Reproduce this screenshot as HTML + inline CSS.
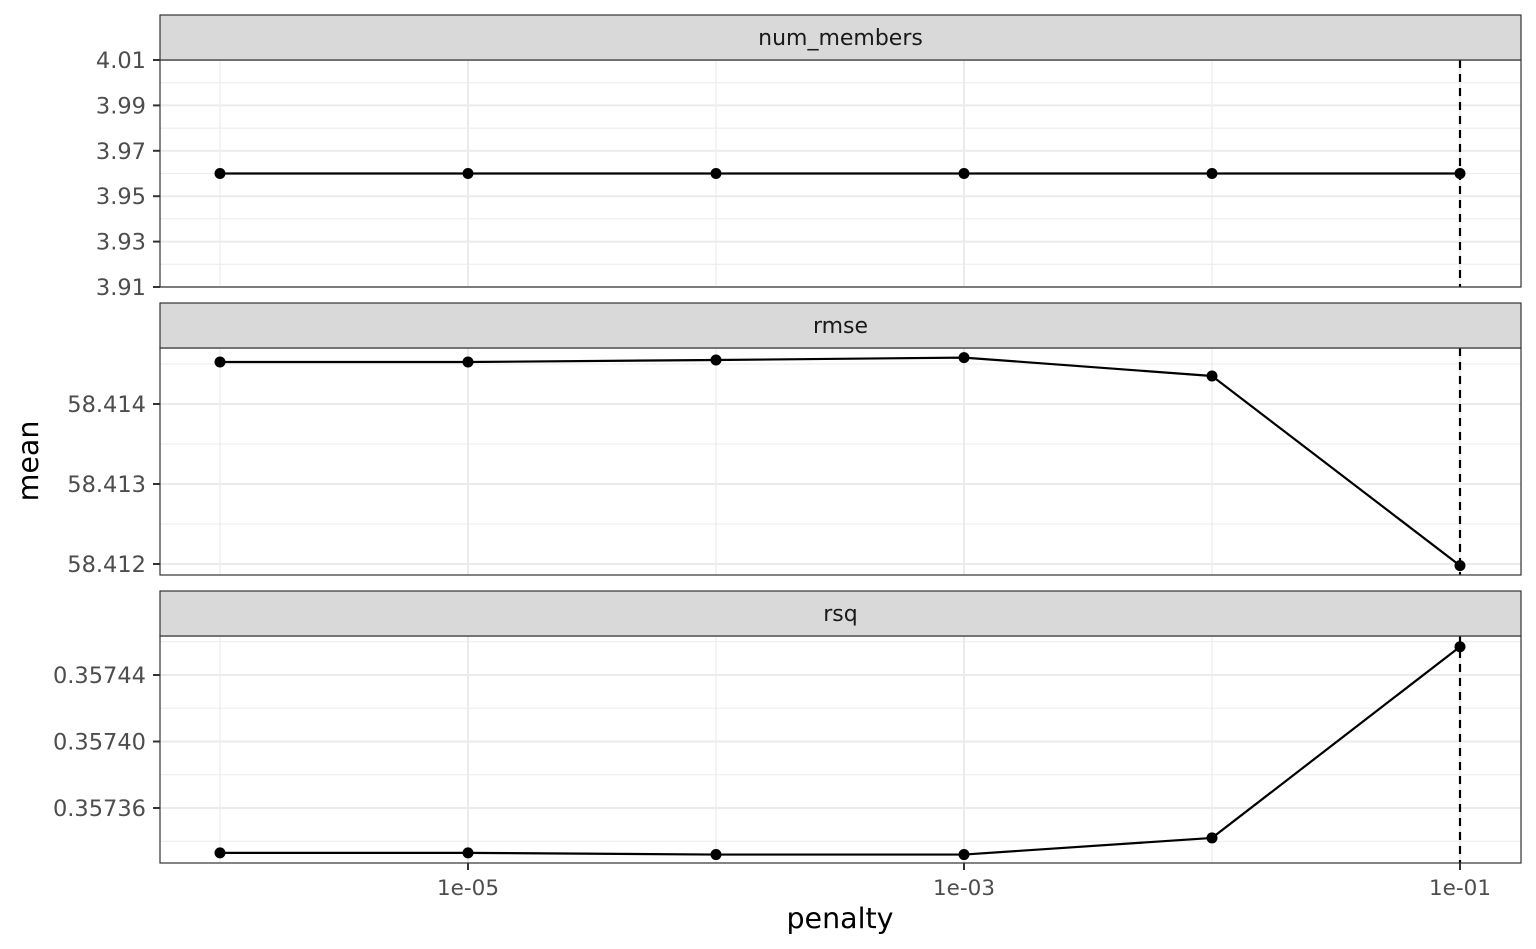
<!DOCTYPE html>
<html><head><meta charset="utf-8"><style>
body{margin:0;background:#fff;}
svg{display:block;font-family:"DejaVu Sans","Liberation Sans",sans-serif;}
</style></head><body>
<svg id="chart" width="1536" height="949" viewBox="0 0 1536 949"></svg>
<script>
const penalties = [1e-6, 1e-5, 1e-4, 1e-3, 1e-2, 1e-1];
const numMembers = [3.96, 3.96, 3.96, 3.96, 3.96, 3.96];
const rmseVals = [58.414525, 58.414525, 58.41455, 58.41458, 58.41435, 58.41198];
const rsqVals = [0.357333, 0.357333, 0.357332, 0.357332, 0.357342, 0.357457];
const xTickVals = [1e-5, 1e-3, 1e-1];
const xTickLabels = ["1e-05", "1e-03", "1e-01"];
const xMinorVals = [1e-6, 1e-4, 1e-2];
const selectedPenalty = 1e-1;

const svg = document.getElementById('chart');
const NS = 'http://www.w3.org/2000/svg';
function mk(tag, attrs, parent){const e=document.createElementNS(NS,tag);for(const k in attrs)e.setAttribute(k,attrs[k]);(parent||svg).appendChild(e);return e;}
const X0=160, X1=1521;
function xs(v){return 468 + (Math.log10(v)+5)*248;}

const panels = [
 {name:'num_members', vals:numMembers, stripTop:15, top:60, bot:287, dTop:4.01, dBot:3.91,
  ticks:[4.01,3.99,3.97,3.95,3.93,3.91], labels:["4.01","3.99","3.97","3.95","3.93","3.91"], step:0.02, showX:false},
 {name:'rmse', vals:rmseVals, stripTop:303, top:348, bot:575, dTop:58.414+(404-348)/80*0.001, dBot:58.412-(575-564)/80*0.001,
  ticks:[58.414,58.413,58.412], labels:["58.414","58.413","58.412"], step:0.001, showX:false},
 {name:'rsq', vals:rsqVals, stripTop:591, top:636, bot:863, dTop:0.35744+(675-636)/66.5*0.00004, dBot:0.35736-(863-808)/66.5*0.00004,
  ticks:[0.35744,0.35740,0.35736], labels:["0.35744","0.35740","0.35736"], step:0.00004, showX:true}
];

panels.forEach(p=>{
  const g = mk('g',{});
  
  
  const ys = v => p.top + (p.dTop - v)/(p.dTop - p.dBot)*(p.bot-p.top);
  mk('rect',{x:X0,y:p.top,width:X1-X0,height:p.bot-p.top,fill:'#fff'},g);
  p.ticks.forEach(t=>{const y=ys(t+p.step/2);if(y>p.top&&y<p.bot)mk('line',{x1:X0,x2:X1,y1:y,y2:y,stroke:'#ebebeb','stroke-width':1},g);});
  const yl=ys(p.ticks[p.ticks.length-1]-p.step/2); if(yl>p.top&&yl<p.bot) mk('line',{x1:X0,x2:X1,y1:yl,y2:yl,stroke:'#ebebeb','stroke-width':1},g);
  xMinorVals.forEach(v=>mk('line',{x1:xs(v),x2:xs(v),y1:p.top,y2:p.bot,stroke:'#ebebeb','stroke-width':1.2},g));
  p.ticks.forEach(t=>{const y=ys(t);mk('line',{x1:X0,x2:X1,y1:y,y2:y,stroke:'#ebebeb','stroke-width':2},g);});
  xTickVals.forEach(v=>mk('line',{x1:xs(v),x2:xs(v),y1:p.top,y2:p.bot,stroke:'#ebebeb','stroke-width':2},g));
  const dl=mk('line',{x1:xs(selectedPenalty),x2:xs(selectedPenalty),y1:p.top,y2:p.bot,stroke:'#000','stroke-width':2.2,'stroke-dasharray':'8,6'},g);
  
  
  const pts=penalties.map((v,i)=>xs(v)+','+ys(p.vals[i])).join(' ');
  const pl=mk('polyline',{points:pts,fill:'none',stroke:'#000','stroke-width':2.2},g);
  
  
  penalties.forEach((v,i)=>{const c=mk('circle',{cx:xs(v),cy:ys(p.vals[i]),r:5.5,fill:'#000'},g);
    
    });
  mk('rect',{x:X0,y:p.top,width:X1-X0,height:p.bot-p.top,fill:'none',stroke:'#333','stroke-width':1.2},g);
  const st=mk('rect',{x:X0,y:p.stripTop,width:X1-X0,height:p.top-p.stripTop,fill:'#d9d9d9',stroke:'#333','stroke-width':1.2},g);
  
  
  const tx=mk('text',{x:(X0+X1)/2,y:p.stripTop+30,'text-anchor':'middle','font-size':'22',fill:'#1a1a1a'},g);
  tx.textContent=p.name;
  
  
  p.ticks.forEach((t,i)=>{const y=ys(t);
    mk('line',{x1:X0-7,x2:X0,y1:y,y2:y,stroke:'#333','stroke-width':2},g);
    const l=mk('text',{x:X0-14,y:y+8,'text-anchor':'end','font-size':'22.5',fill:'#4d4d4d'},g);
    l.textContent=p.labels[i];
    
    });
  if(p.showX){xTickVals.forEach((v,i)=>{
    mk('line',{x1:xs(v),x2:xs(v),y1:p.bot,y2:p.bot+7,stroke:'#333','stroke-width':2},g);
    const l=mk('text',{x:xs(v),y:p.bot+32,'text-anchor':'middle','font-size':'21.5',fill:'#4d4d4d'},g);
    l.textContent=xTickLabels[i];
    
    });}
});
const xt=mk('text',{x:840,y:928,'text-anchor':'middle','font-size':'28.5',fill:'#000'});
xt.textContent='penalty';


const yt=mk('text',{x:38,y:461,'text-anchor':'middle','font-size':'28.5',fill:'#000',transform:'rotate(-90 38 461)'});
yt.textContent='mean';


</script>
</body></html>
